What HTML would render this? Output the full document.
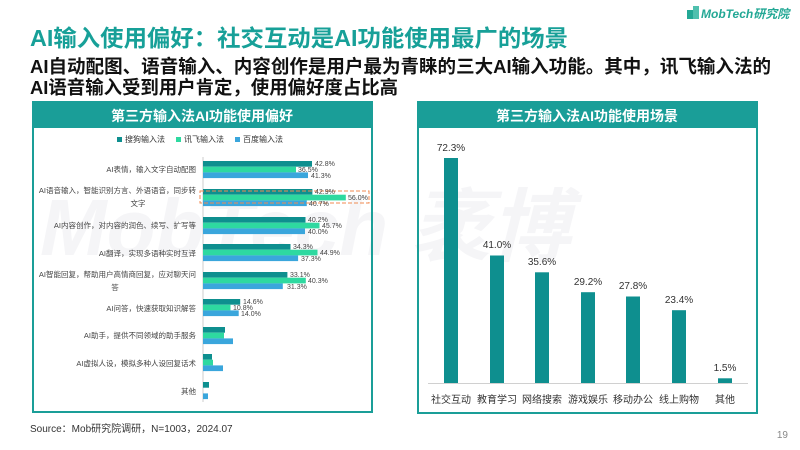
<!DOCTYPE html>
<html><head><meta charset="utf-8"><style>
body{margin:0;background:#fff;}
svg{display:block;font-family:"Liberation Sans","Noto Sans CJK SC",sans-serif;}
</style></head><body>
<svg width="800" height="450" viewBox="0 0 800 450" xmlns="http://www.w3.org/2000/svg">
<rect width="800" height="450" fill="#fff"/>
<text x="40" y="255" font-size="80" font-weight="bold" font-style="italic" fill="#f5f5f7">MobTech 袤博</text>
<rect x="687" y="10" width="6" height="9" fill="#23a895"/><rect x="693" y="6" width="6" height="13" fill="#4fc0ae"/>
<text x="701" y="18" font-size="12" font-weight="bold" font-style="italic" fill="#23a895">MobTech研究院</text>
<text x="30" y="46" font-size="23" font-weight="bold" fill="#17a098" textLength="538" lengthAdjust="spacingAndGlyphs">AI输入使用偏好：社交互动是AI功能使用最广的场景</text>
<text x="30" y="73" font-size="18.5" font-weight="bold" fill="#111" textLength="741" lengthAdjust="spacingAndGlyphs">AI自动配图、语音输入、内容创作是用户最为青睐的三大AI输入功能。其中，讯飞输入法的</text>
<text x="30" y="94" font-size="18.5" font-weight="bold" fill="#111" textLength="368" lengthAdjust="spacingAndGlyphs">AI语音输入受到用户肯定，使用偏好度占比高</text>
<rect x="33" y="102" width="339" height="310" fill="none" stroke="#1a9e98" stroke-width="2"/>
<rect x="33" y="102" width="339" height="26" fill="#1a9e98"/>
<text x="202" y="121" font-size="14" font-weight="bold" fill="#fff" text-anchor="middle">第三方输入法AI功能使用偏好</text>
<g font-size="8" fill="#333">
<rect x="117" y="137" width="5" height="5" fill="#0e8f8f"/><text x="125" y="142">搜狗输入法</text>
<rect x="176" y="137" width="5" height="5" fill="#2ed9a0"/><text x="184" y="142">讯飞输入法</text>
<rect x="235" y="137" width="5" height="5" fill="#3aa6dc"/><text x="243" y="142">百度输入法</text>
</g>
<line x1="203" y1="157" x2="203" y2="402" stroke="#ccc" stroke-width="1"/>
<g>
<rect x="203" y="161" width="109" height="5.7" fill="#0e8f8f"/><rect x="203" y="166.7" width="93" height="5.7" fill="#2ed9a0"/><rect x="203" y="172.4" width="105" height="5.7" fill="#3aa6dc"/>
<rect x="203" y="189" width="109.4" height="5.7" fill="#0e8f8f"/><rect x="203" y="194.7" width="142.8" height="5.7" fill="#2ed9a0"/><rect x="203" y="200.4" width="103.8" height="5.7" fill="#3aa6dc"/>
<rect x="203" y="217" width="102.5" height="5.7" fill="#0e8f8f"/><rect x="203" y="222.7" width="116.5" height="5.7" fill="#2ed9a0"/><rect x="203" y="228.4" width="102" height="5.7" fill="#3aa6dc"/>
<rect x="203" y="244" width="87.5" height="5.7" fill="#0e8f8f"/><rect x="203" y="249.7" width="114.5" height="5.7" fill="#2ed9a0"/><rect x="203" y="255.4" width="95.1" height="5.7" fill="#3aa6dc"/>
<rect x="203" y="272" width="84.4" height="5.7" fill="#0e8f8f"/><rect x="203" y="277.7" width="102.8" height="5.7" fill="#2ed9a0"/><rect x="203" y="283.4" width="79.8" height="5.7" fill="#3aa6dc"/>
<rect x="203" y="299" width="37.2" height="5.7" fill="#0e8f8f"/><rect x="203" y="304.7" width="27.5" height="5.7" fill="#2ed9a0"/><rect x="203" y="310.4" width="35.7" height="5.7" fill="#3aa6dc"/>
<rect x="203" y="327" width="22" height="5.7" fill="#0e8f8f"/><rect x="203" y="332.7" width="21" height="5.7" fill="#2ed9a0"/><rect x="203" y="338.4" width="30" height="5.7" fill="#3aa6dc"/>
<rect x="203" y="354" width="9" height="5.7" fill="#0e8f8f"/><rect x="203" y="359.7" width="10" height="5.7" fill="#2ed9a0"/><rect x="203" y="365.4" width="20" height="5.7" fill="#3aa6dc"/>
<rect x="203" y="382" width="6" height="5.7" fill="#0e8f8f"/><rect x="203" y="393.4" width="5" height="5.7" fill="#3aa6dc"/>
</g>
<rect x="200" y="191" width="169" height="12" fill="none" stroke="#f08a50" stroke-width="1" stroke-dasharray="4,2"/>
<g font-size="7" fill="#444">
<text x="315" y="166">42.8%</text><text x="298" y="172">36.5%</text><text x="311" y="178">41.3%</text>
<text x="315" y="194">42.9%</text><text x="348" y="200">56.0%</text><text x="309" y="206">40.7%</text>
<text x="308" y="222">40.2%</text><text x="322" y="228">45.7%</text><text x="308" y="234">40.0%</text>
<text x="293" y="249">34.3%</text><text x="320" y="255">44.9%</text><text x="301" y="261">37.3%</text>
<text x="290" y="277">33.1%</text><text x="308" y="283">40.3%</text><text x="287" y="289">31.3%</text>
<text x="243" y="304">14.6%</text><text x="233" y="310">10.8%</text><text x="241" y="316">14.0%</text>
</g>
<g font-size="7.5" fill="#444" text-anchor="end">
<text x="196" y="172">AI表情，输入文字自动配图</text>
<text x="196" y="193">AI语音输入，智能识别方言、外语语音，同步转</text>
<text x="138" y="206" text-anchor="middle">文字</text>
<text x="196" y="228">AI内容创作，对内容的润色、续写、扩写等</text>
<text x="196" y="256">AI翻译，实现多语种实时互译</text>
<text x="196" y="277">AI智能回复，帮助用户高情商回复，应对聊天问</text>
<text x="115" y="290" text-anchor="middle">答</text>
<text x="196" y="311">AI问答，快速获取知识解答</text>
<text x="196" y="338">AI助手，提供不同领域的助手服务</text>
<text x="196" y="366">AI虚拟人设，模拟多种人设回复话术</text>
<text x="196" y="394">其他</text>
</g>
<rect x="418" y="102" width="339" height="311" fill="none" stroke="#1a9e98" stroke-width="2"/>
<rect x="418" y="102" width="339" height="26" fill="#1a9e98"/>
<text x="587" y="121" font-size="14" font-weight="bold" fill="#fff" text-anchor="middle">第三方输入法AI功能使用场景</text>
<line x1="428" y1="383.5" x2="748" y2="383.5" stroke="#d0d0d0" stroke-width="1"/>
<g fill="#0e8f8f">
<rect x="444" y="158" width="14" height="225"/>
<rect x="490" y="255.5" width="14" height="127.5"/>
<rect x="535" y="272.3" width="14" height="110.7"/>
<rect x="581" y="292.2" width="14" height="90.8"/>
<rect x="626" y="296.5" width="14" height="86.5"/>
<rect x="672" y="310.2" width="14" height="72.8"/>
<rect x="718" y="378.3" width="14" height="4.7"/>
</g>
<g font-size="10" fill="#333" text-anchor="middle">
<text x="451" y="151">72.3%</text><text x="497" y="248">41.0%</text><text x="542" y="265">35.6%</text>
<text x="588" y="285">29.2%</text><text x="633" y="289">27.8%</text><text x="679" y="303">23.4%</text><text x="725" y="371">1.5%</text>
<text x="451" y="403">社交互动</text><text x="497" y="403">教育学习</text><text x="542" y="403">网络搜索</text>
<text x="588" y="403">游戏娱乐</text><text x="633" y="403">移动办公</text><text x="679" y="403">线上购物</text><text x="725" y="403">其他</text>
</g>
<text x="30" y="432" font-size="10" fill="#333">Source：Mob研究院调研，N=1003，2024.07</text>
<text x="788" y="438" font-size="10" fill="#888" text-anchor="end">19</text>
</svg>
</body></html>
